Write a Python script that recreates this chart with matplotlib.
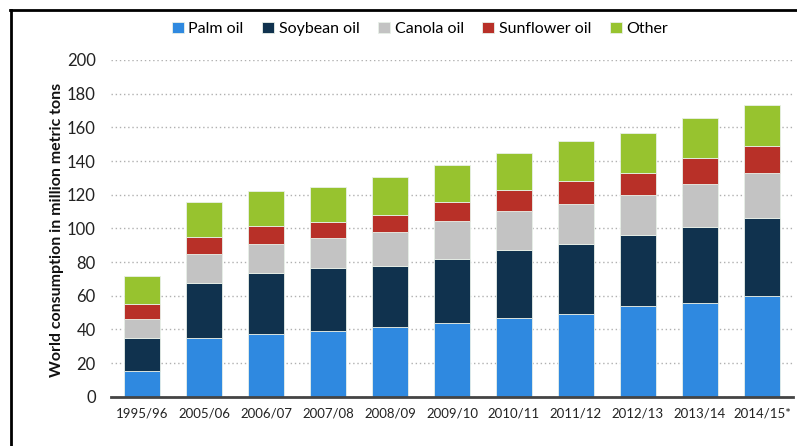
import matplotlib
matplotlib.use("Agg")
import matplotlib.pyplot as plt
from matplotlib.lines import Line2D
import numpy as np

plt.rcParams['font.family'] = ['Lato', 'DejaVu Sans']

years = ["1995/96", "2005/06", "2006/07", "2007/08", "2008/09", "2009/10",
         "2010/11", "2011/12", "2012/13", "2013/14", "2014/15*"]
palm = [15.3, 34.8, 37.2, 38.8, 41.4, 43.7, 46.7, 49.3, 54.0, 55.8, 59.9]
soybean = [19.5, 33.0, 36.0, 37.7, 36.4, 38.1, 40.6, 41.7, 42.0, 45.1, 46.3]
canola = [11.3, 16.8, 17.6, 18.0, 19.9, 22.6, 23.0, 23.7, 23.6, 25.2, 26.6]
sunflower = [8.8, 10.0, 10.6, 9.2, 10.5, 11.5, 12.3, 13.4, 13.4, 15.4, 16.0]
other = [16.8, 20.8, 20.6, 21.0, 22.3, 22.0, 22.4, 23.6, 23.7, 24.2, 24.2]

series = [("Palm oil", palm, "#2F89E0"),
          ("Soybean oil", soybean, "#10324E"),
          ("Canola oil", canola, "#C3C3C3"),
          ("Sunflower oil", sunflower, "#B83028"),
          ("Other", other, "#97C32F")]

fig = plt.figure(figsize=(7.97, 4.46), dpi=100)
ax = fig.add_axes([111/797, 49.3/446, (793-111)/797, (396.7-60)/446])

x = np.arange(len(years))
bottom = np.zeros(len(years))
handles = []
for name, vals, col in series:
    vals = np.array(vals)
    b = ax.bar(x, vals, 0.58, bottom=bottom, color=col, edgecolor="#e8f0e8",
               linewidth=0.6, label=name, zorder=3)
    handles.append(b)
    bottom += vals

ax.set_xlim(-0.5, 10.5)
ax.set_ylim(0, 200)
ax.set_yticks(np.arange(0, 201, 20))
ax.set_xticks(x)
ax.set_xticklabels(years, fontsize=9.5, color="#222222")
ax.tick_params(axis='y', labelsize=12, colors="#222222", length=0, pad=11)
ax.tick_params(axis='x', length=0, pad=8)

ax.grid(axis='y', linestyle=(0, (1, 2)), color="#b0b0b0", linewidth=1, zorder=0)
ax.set_axisbelow(True)
for s in ['top', 'right', 'left']:
    ax.spines[s].set_visible(False)
ax.spines['bottom'].set_color("#444444")
ax.spines['bottom'].set_linewidth(2)
ax.spines['bottom'].set_zorder(4)

fig.text(57/797, 1 - 230/446, "World consumption in million metric tons",
         rotation=90, ha='center', va='center', fontsize=11.5,
         fontweight='bold', color="#111111")

fig.legend(handles=handles, loc='center', bbox_to_anchor=(420/797, 1 - 29/446),
           ncol=5, frameon=False, fontsize=11.5, handlelength=0.75,
           handleheight=0.75, handletextpad=0.3, columnspacing=1.15)

fig.add_artist(Line2D([10.5/797, 10.5/797], [0, 1 - 10/446], color='black', lw=2))
fig.add_artist(Line2D([10/797, 1], [1 - 10/446, 1 - 10/446], color='black', lw=2))

fig.savefig("out.png", dpi=100)
